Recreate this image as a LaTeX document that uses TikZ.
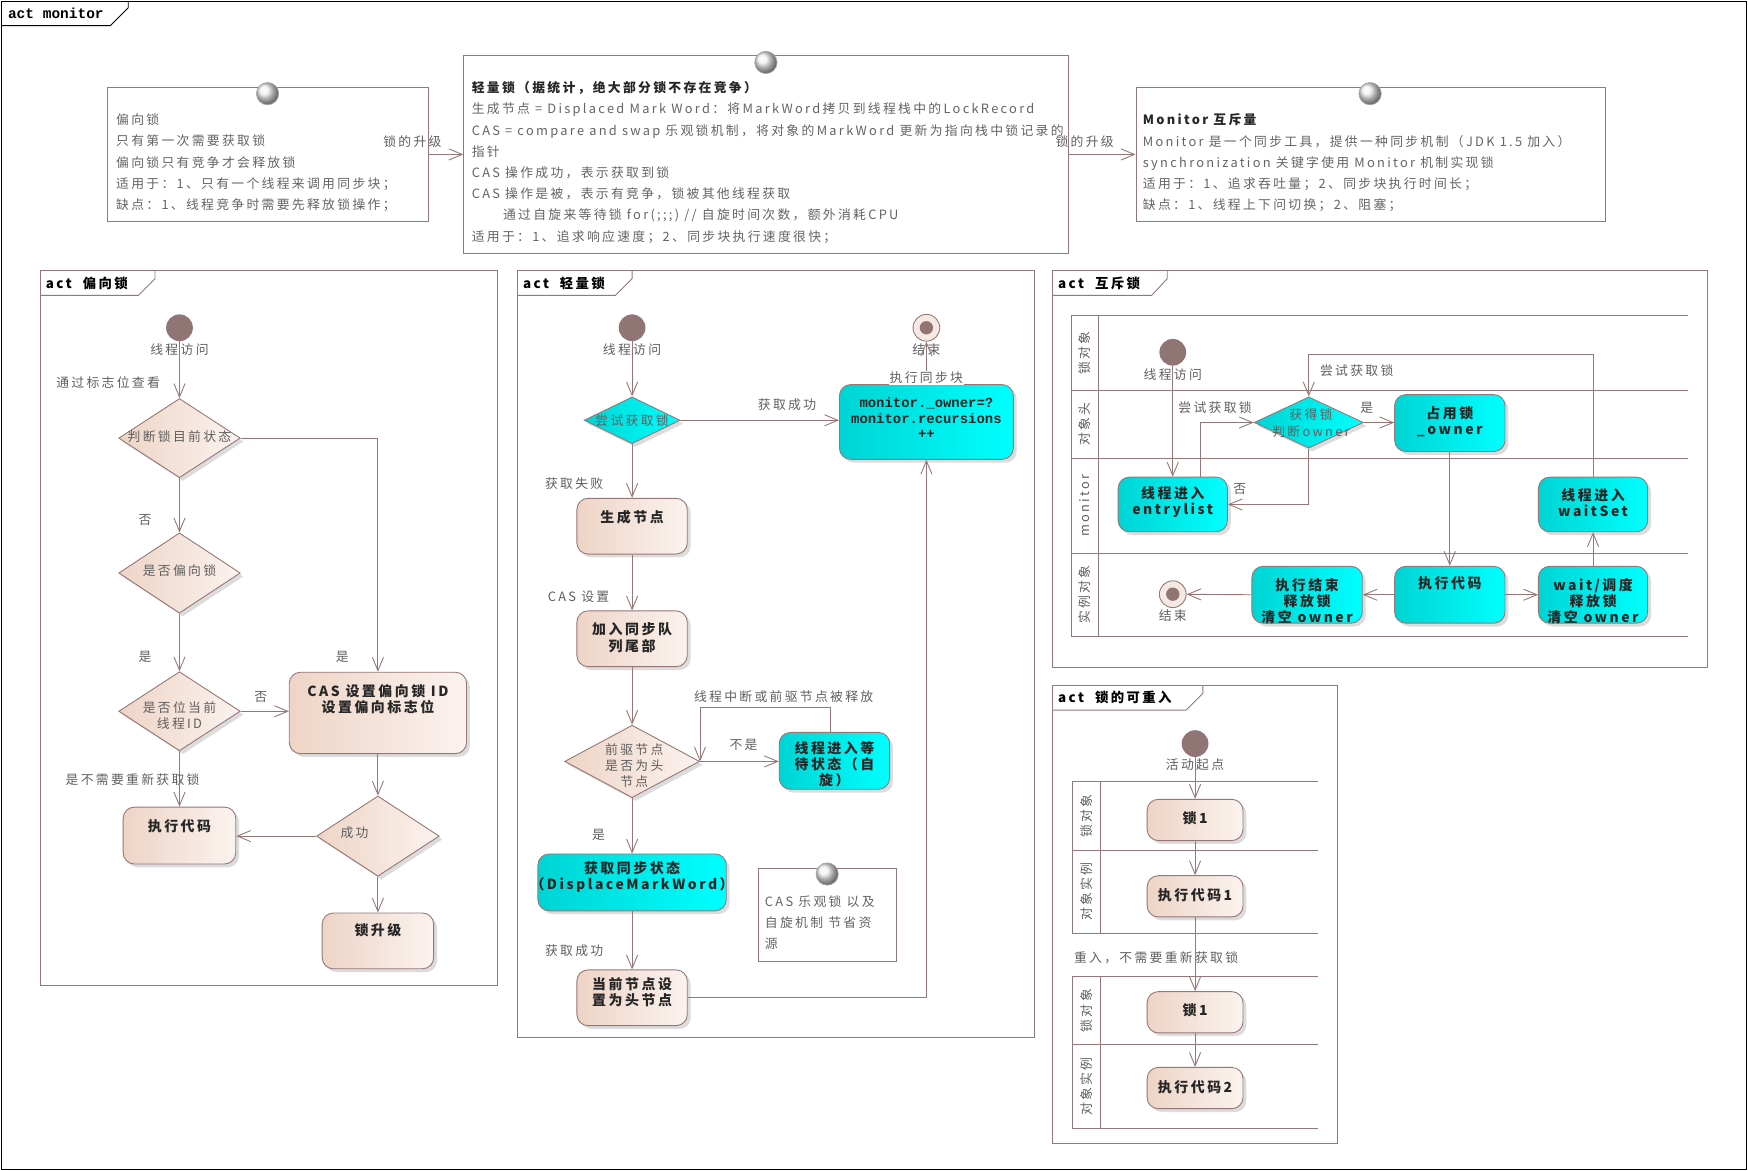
\documentclass[tikz,border=0pt]{standalone}
\usepackage{fontspec}
\setmainfont{Noto Sans CJK SC}[LetterSpace=18]
\newfontfamily\monof{Liberation Mono}
\usetikzlibrary{shapes.geometric,arrows.meta,shadows}
\definecolor{lnc}{RGB}{150,118,118}
\definecolor{pinkL}{RGB}{238,212,198}
\definecolor{pinkR}{RGB}{251,243,239}
\definecolor{cyL}{RGB}{0,212,212}
\definecolor{cyR}{RGB}{0,255,255}
\definecolor{startc}{RGB}{145,117,117}
\definecolor{endc}{RGB}{246,232,226}
\definecolor{txtc}{RGB}{95,95,95}
\definecolor{ntxtc}{RGB}{100,100,100}
\newcommand\myN{\fontsize{11.5}{19}\selectfont}
\newcommand\myL{\fontsize{11.5}{14.5}\selectfont}
\newcommand\myB{\bfseries\fontsize{12.5}{14.5}\selectfont}
\tikzset{
 frame/.style={draw=lnc, line width=0.8pt},
 arr/.style={draw=lnc, line width=0.8pt, -{Straight Barb[length=12pt,width=10pt]}},
 shad/.style={drop shadow={shadow xshift=3pt, shadow yshift=-3pt, fill=black!25, opacity=.55}},
 pbox/.style={draw=lnc, line width=.8pt, rounded corners=10pt, left color=pinkL, right color=pinkR, shad, inner sep=0pt},
 cbox/.style={draw=lnc, line width=.8pt, rounded corners=10pt, left color=cyL, right color=cyR, shad, inner sep=0pt},
 pdia/.style={diamond, draw=lnc, line width=.8pt, left color=pinkL, right color=pinkR, shad, inner sep=0pt},
 cdia/.style={diamond, draw=lnc, line width=.8pt, left color=cyL, right color=cyR, shad, inner sep=0pt},
 note/.style={draw=lnc, line width=.8pt, fill=white, inner sep=0pt},
 nball/.style={circle, draw=gray!70, line width=.6pt, shading=ball, ball color=gray!12, minimum size=20pt, inner sep=0pt},
 startn/.style={circle, fill=startc, minimum size=24pt, inner sep=0pt},
 endn/.style={circle, draw=lnc, line width=.8pt, fill=endc, minimum size=24pt, inner sep=0pt, path picture={\fill[startc] (path picture bounding box.center) circle (6pt);}},
 lbl/.style={font=\myL, text=txtc, inner sep=0pt},
 btxt/.style={font=\myB, text=black!85, align=center, inner sep=0pt},
 mtxt/.style={font=\monof\bfseries\fontsize{12.5}{14}\selectfont, text=black!85, align=center, inner sep=0pt},
 dtxt/.style={font=\myL, text=txtc, align=center, inner sep=0pt},
 ntxt/.style={font=\myN, text=ntxtc, align=left, inner sep=0pt, anchor=north west},
 tabt/.style={font=\bfseries\fontsize{12}{14}\selectfont, anchor=west, inner sep=0pt},
 lane/.style={font=\myL, text=txtc, rotate=90, inner sep=0pt},
}
\begin{document}
\begin{tikzpicture}[x=1pt,y=-1pt]
\useasboundingbox (0,0) rectangle (1568,1050);
\draw[black, line width=.8pt] (1,1) rectangle (1567,1049);
\draw[black, line width=.8pt] (1,23) -- (99,23) -- (115,7) -- (115,1);
\node[font=\monof\bfseries\fontsize{13}{14}\selectfont, anchor=west, inner sep=0pt] (tmain) at (7,12) {act monitor};

% ---------- notes ----------
\node[note, minimum width=288pt, minimum height=121pt] (n1) at (240,138.5) {};
\node[nball] (n1b) at (240,84) {};
\node[ntxt] (n1t) at (104,102) {偏向锁\\只有第一次需要获取锁\\偏向锁只有竞争才会释放锁\\适用于：1、只有一个线程来调用同步块；\\缺点：1、线程竞争时需要先释放锁操作；};

\node[note, minimum width=542pt, minimum height=177pt] (n2) at (687,138.5) {};
\node[nball] (n2b) at (687,56) {};
\node[ntxt] (n2t) at (423,73) {\textbf{\color{black!85}轻量锁（据统计，绝大部分锁不存在竞争）}\\生成节点 = Displaced Mark Word：将MarkWord拷贝到线程栈中的LockRecord\\CAS = compare and swap 乐观锁机制，将对象的MarkWord 更新为指向栈中锁记录的\\指针\\CAS 操作成功，表示获取到锁\\CAS 操作是被，表示有竞争，锁被其他线程获取\\\hspace*{28pt}通过自旋来等待锁 for(;;;) // 自旋时间次数，额外消耗CPU\\适用于：1、追求响应速度；2、同步块执行速度很快；};

\node[note, minimum width=421pt, minimum height=121pt] (n3) at (1229.5,138.5) {};
\node[nball] (n3b) at (1229,84) {};
\node[ntxt] (n3t) at (1025,102) {\textbf{\color{black!85}Monitor 互斥量}\\Monitor 是一个同步工具，提供一种同步机制（JDK 1.5 加入）\\synchronization 关键字使用 Monitor 机制实现锁\\适用于：1、追求吞吐量；2、同步块执行时间长；\\缺点：1、线程上下问切换；2、阻塞；};

\draw[arr] (n1.east) -- (n2.west);
\node[lbl] (u1) at (370,127) {锁的升级};
\draw[arr] (n2.east) -- (n3.west);
\node[lbl] (u2) at (973,127) {锁的升级};

% ---------- 偏向锁 ----------
\draw[frame] (36,243) rectangle (446,884);
\draw[frame] (36,265) -- (124,265) -- (139,250) -- (139,243);
\node[tabt] (t1) at (41,254) {act\ \ 偏向锁};

\node[startn] (b0) at (161,294) {};
\node[pdia, minimum width=109pt, minimum height=71pt] (b1) at (161,393) {};
\node[pdia, minimum width=109pt, minimum height=72pt] (b2) at (161,514) {};
\node[pdia, minimum width=109pt, minimum height=71pt] (b3) at (161,638) {};
\node[pbox, minimum width=159pt, minimum height=73pt] (b4) at (339,639.5) {};
\node[pdia, minimum width=110pt, minimum height=72pt] (b5) at (339,750) {};
\node[pbox, minimum width=101pt, minimum height=51pt] (b6) at (161,749.5) {};
\node[pbox, minimum width=100pt, minimum height=50pt] (b7) at (339,844) {};
\node[lbl] (b0l) at (161,314) {线程访问};
\node[dtxt] (b1t) at (161,392) {判断锁目前状态};
\node[dtxt] (b2t) at (161,512) {是否偏向锁};
\node[dtxt] (b3t) at (161,642) {是否位当前\\线程ID};
\node[btxt] (b4t) at (339,627) {CAS 设置偏向锁 ID\\设置偏向标志位};
\node[dtxt] (b5t) at (318,747) {成功};
\node[btxt] (b6t) at (161,741) {执行代码};
\node[btxt] (b7t) at (339,834) {锁升级};

\draw[arr] (b0) -- (b1.north);
\draw[arr] (b1.east) -| (b4.north);
\draw[arr] (b1.south) -- (b2.north);
\draw[arr] (b2.south) -- (b3.north);
\draw[arr] (b3.east) -- (b3.east -| b4.west);
\draw[arr] (b3.south) -- (b6.north);
\draw[arr] (b4.south) -- (b5.north);
\draw[arr] (b5.west) -- (b5.west -| b6.east);
\draw[arr] (b5.south) -- (b7.north);
\node[lbl] (bl1) at (97,343) {通过标志位查看};
\node[lbl] (bl2) at (130,466) {否};
\node[lbl] (bl3) at (130,589) {是};
\node[lbl] (bl4) at (307,589) {是};
\node[lbl] (bl5) at (234,625) {否};
\node[lbl] (bl6) at (119,699) {是不需要重新获取锁};

% ---------- 轻量锁 ----------
\draw[frame] (464,243) rectangle (928,931);
\draw[frame] (464,265) -- (552,265) -- (567,250) -- (567,243);
\node[tabt] (t2) at (469,254) {act\ \ 轻量锁};

\node[startn] (L0) at (567,294) {};
\node[cdia, minimum width=86pt, minimum height=42pt] (L1) at (567,377) {};
\node[cbox, minimum width=156pt, minimum height=67pt] (L2) at (831,378.5) {};
\node[endn] (L3) at (831,294) {};
\node[pbox, minimum width=99pt, minimum height=50pt] (L4) at (567,472) {};
\node[pbox, minimum width=99pt, minimum height=50pt] (L5) at (567,573) {};
\node[pdia, minimum width=121pt, minimum height=65pt] (L6) at (567,683) {};
\node[cbox, minimum width=99pt, minimum height=51pt] (L7) at (748.5,682.5) {};
\node[cbox, minimum width=169pt, minimum height=51pt] (L8) at (567,791.5) {};
\node[pbox, minimum width=99pt, minimum height=50pt] (L9) at (567,895) {};
\node[note, minimum width=124pt, minimum height=83pt] (n4) at (742,820.5) {};
\node[nball] (n4b) at (742,784) {};
\node[ntxt] (n4t) at (686,803) {CAS 乐观锁 以及\\自旋机制 节省资\\源};

\node[lbl] (L0l) at (567,314) {线程访问};
\node[dtxt] (L1t) at (567,377) {尝试获取锁};
\node[mtxt] (L2t) at (831,375) {monitor.\_owner=?\\monitor.recursions\\++};
\node[lbl] (L3l) at (831,314) {结束};
\node[btxt] (L4t) at (567,464) {生成节点};
\node[btxt] (L5t) at (567,572) {加入同步队\\列尾部};
\node[dtxt] (L6t) at (569,686.5) {前驱节点\\是否为头\\节点};
\node[btxt] (L7t) at (748.5,685.5) {线程进入等\\待状态（自\\旋）};
\node[btxt] (L8t) at (567,786.5) {获取同步状态\\（DisplaceMarkWord）};
\node[btxt] (L9t) at (567,890) {当前节点设\\置为头节点};

\draw[arr] (L0) -- (L1.north);
\draw[arr] (L1.east) -- (L1.east -| L2.west);
\draw[arr] (L2.north) -- (L3);
\draw[arr] (L1.south) -- (L4.north);
\draw[arr] (L4.south) -- (L5.north);
\draw[arr] (L5.south) -- (L6.north);
\draw[arr] (L6.east) -- (L6.east -| L7.west);
\draw[arr] ([xshift=-3.5pt]L7.north) -- ++(0,-22) -| (L6.east);
\draw[arr] (L6.south) -- (L8.north);
\draw[arr] (L8.south) -- (L9.north);
\draw[arr] (L9.east) -| (L2.south);
\node[lbl] (Ll1) at (706,363) {获取成功};
\node[lbl, fill=white, inner sep=1pt] (Ll2) at (831,339) {执行同步块};
\node[lbl] (Ll3) at (515,434) {获取失败};
\node[lbl] (Ll4) at (519,535) {CAS 设置};
\node[lbl] (Ll5) at (667,668) {不是};
\node[lbl] (Ll6) at (703,625) {线程中断或前驱节点被释放};
\node[lbl] (Ll7) at (537,749) {是};
\node[lbl] (Ll8) at (515,853) {获取成功};

% ---------- 互斥锁 ----------
\draw[frame] (944,243) rectangle (1532,599);
\draw[frame] (944,265) -- (1033,265) -- (1047,250) -- (1047,243);
\node[tabt] (t3) at (949,254) {act\ \ 互斥锁};
\draw[frame] (961,283) -- (1514,283) (961,350) -- (1514,350) (961,411) -- (1514,411)
  (961,496) -- (1514,496) (961,571) -- (1514,571) (961,283) -- (961,571) (985,283) -- (985,571);
\node[lane] (ml1) at (973,316.5) {锁对象};
\node[lane] (ml2) at (973,380.5) {对象头};
\node[lane] (ml3) at (973,453.5) {monitor};
\node[lane] (ml4) at (973,533.5) {实例对象};

\node[startn] (M0) at (1052,316) {};
\node[cdia, minimum width=98pt, minimum height=46pt] (M1) at (1174,379) {};
\node[cbox, minimum width=98pt, minimum height=49pt] (M2) at (1052,452.5) {};
\node[cbox, minimum width=99pt, minimum height=51pt] (M3) at (1300.5,379.5) {};
\node[cbox, minimum width=99pt, minimum height=51pt] (M4) at (1300.5,533.5) {};
\node[cbox, minimum width=99pt, minimum height=51pt] (M5) at (1172.5,533.5) {};
\node[endn] (M6) at (1052,533) {};
\node[cbox, minimum width=98pt, minimum height=51pt] (M7) at (1429,533.5) {};
\node[cbox, minimum width=98pt, minimum height=49pt] (M8) at (1429,452.5) {};
\node[lbl] (M0l) at (1052,336) {线程访问};
\node[dtxt] (M1t) at (1176,379.5) {获得锁\\判断owner};
\node[btxt] (M2t) at (1052,450.5) {线程进入\\entrylist};
\node[btxt] (M3t) at (1300.5,378) {占用锁\\\_owner};
\node[btxt] (M4t) at (1300.5,523) {执行代码};
\node[btxt] (M5t) at (1172.5,539.5) {执行结束\\释放锁\\清空 owner};
\node[lbl] (M6l) at (1052,552) {结束};
\node[btxt] (M7t) at (1429,539.5) {wait/调度\\释放锁\\清空 owner};
\node[btxt] (M8t) at (1429,450.5) {线程进入\\waitSet};

\draw[arr] (M0) -- (M2.north);
\draw[arr] ([xshift=25pt]M2.north) |- (M1.west);
\draw[arr] (M1.south) |- (M2.east);
\draw[arr] (M1.east) -- (M1.east -| M3.west);
\draw[arr] (M3.south) -- (M4.north);
\draw[arr] (M4.west) -- (M5.east);
\draw[arr] (M5.west) -- (M6);
\draw[arr] (M4.east) -- (M7.west);
\draw[arr] (M7.north) -- (M8.south);
\draw[arr] (M8.north) -- ++(0,-110) -| (M1.north);
\node[lbl] (Ml1) at (1090,366) {尝试获取锁};
\node[lbl] (Ml2) at (1112,439) {否};
\node[lbl] (Ml3) at (1226,366) {是};
\node[lbl] (Ml4) at (1217,332) {尝试获取锁};

% ---------- 锁的可重入 ----------
\draw[frame] (944,615) rectangle (1200,1026);
\draw[frame] (944,637) -- (1064,637) -- (1079,622) -- (1079,615);
\node[tabt] (t4) at (949,626) {act\ \ 锁的可重入};
\draw[frame] (962,701) -- (1182,701) (962,763) -- (1182,763) (962,837) -- (1182,837)
  (962,701) -- (962,837) (987,701) -- (987,837);
\draw[frame] (962,876) -- (1182,876) (962,937) -- (1182,937) (962,1012) -- (1182,1012)
  (962,876) -- (962,1012) (987,876) -- (987,1012);
\node[lane] (rl1) at (974.5,732) {锁对象};
\node[lane] (rl2) at (974.5,800) {对象实例};
\node[lane] (rl3) at (974.5,906.5) {锁对象};
\node[lane] (rl4) at (974.5,974.5) {对象实例};

\node[startn] (R0) at (1072,667) {};
\node[pbox, minimum width=86pt, minimum height=37pt] (R1) at (1072,735.5) {};
\node[pbox, minimum width=86pt, minimum height=37pt] (R2) at (1072,804) {};
\node[pbox, minimum width=86pt, minimum height=37pt] (R3) at (1072,908) {};
\node[pbox, minimum width=86pt, minimum height=37pt] (R4) at (1072,976) {};
\node[lbl] (R0l) at (1072,686) {活动起点};
\node[btxt] (R1t) at (1072,734) {锁1};
\node[btxt] (R2t) at (1072,803) {执行代码1};
\node[btxt] (R3t) at (1072,906) {锁1};
\node[btxt] (R4t) at (1072,975) {执行代码2};
\draw[arr] (R0) -- (R1.north);
\draw[arr] (R1.south) -- (R2.north);
\draw[arr] (R2.south) -- (R3.north);
\draw[arr] (R3.south) -- (R4.north);
\node[lbl] (Rl1) at (1037,859) {重入，不需要重新获取锁};
\end{tikzpicture}
\end{document}
